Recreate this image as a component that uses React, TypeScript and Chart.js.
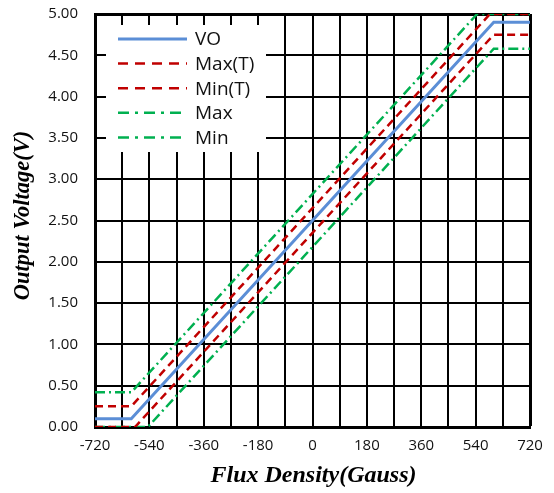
import React, { useEffect, useRef } from "react";
import { Chart, registerables } from "chart.js";

Chart.register(...registerables);

// ---- data ----
const X_TICK_STEP = 90;
const X_LABEL_STEP = 180;
const X_MIN = -720;
const X_MAX = 720;
const Y_MIN = 0;
const Y_MAX = 5;
const Y_STEP = 0.5;

const VO_X = [-720, -600, 600, 720];
const VO_Y = [0.1, 0.1, 4.9, 4.9];
const MAXT_X = [-720, -600, 587.5, 720];
const MAXT_Y = [0.25, 0.25, 5.0, 5.0];
const MINT_X = [-720, -587.5, 600, 720];
const MINT_Y = [0, 0, 4.75, 4.75];
const MAX_X = [-720, -600, 545, 720];
const MAX_Y = [0.42, 0.42, 5.0, 5.0];
const MIN_X = [-720, -545, 600, 720];
const MIN_Y = [0, 0, 4.58, 4.58];

const SERIES_NAMES = ["VO", "Max(T)", "Min(T)", "Max", "Min"];

const BLUE = "#5B8ED6";
const RED = "#C00000";
const GREEN = "#00B050";
const RED_DASH = [8, 5];
const GREEN_DASH = [10, 4, 2, 4];

const zip = (xs: number[], ys: number[]) => xs.map((x, i) => ({ x, y: ys[i] }));

const TICK_FONT = { family: "'Open Sans', 'Noto Sans', sans-serif", size: 15 };

const legendPlugin = {
  id: "boxLegend",
  afterDraw(chart: any) {
    const ctx = chart.ctx;
    const area = chart.chartArea;
    const bx = area.left + 11;
    const by = area.top + 11;
    const bw = 160;
    const bh = 127;
    ctx.save();
    ctx.fillStyle = "#fff";
    ctx.fillRect(bx, by, bw, bh);
    const items = chart.data.datasets.map((d: any) => ({
      label: d.label,
      color: d.borderColor,
      dash: d.borderDash || [],
      width: d.borderWidth,
    }));
    const x0 = bx + 12;
    const x1 = bx + 81;
    const tx = bx + 89;
    items.forEach((it: any, i: number) => {
      const y = by + 14 + i * 24.6;
      ctx.beginPath();
      ctx.strokeStyle = it.color;
      ctx.lineWidth = it.width;
      ctx.setLineDash(it.dash.length === 2 ? [10, 7] : it.dash.length === 4 ? [11, 6, 3, 6] : []);
      ctx.moveTo(x0, y);
      ctx.lineTo(x1, y);
      ctx.stroke();
      ctx.setLineDash([]);
      ctx.fillStyle = "#111";
      ctx.font = "19px 'Open Sans', 'Noto Sans', sans-serif";
      ctx.textBaseline = "middle";
      ctx.textAlign = "left";
      ctx.fillText(it.label, tx, y + 1);
    });
    ctx.restore();
  },
};

const titlePlugin = {
  id: "axisTitles",
  afterDraw(chart: any) {
    const ctx = chart.ctx;
    const area = chart.chartArea;
    ctx.save();
    ctx.fillStyle = "#000";
    ctx.font = "italic bold 24px 'Liberation Serif', 'DejaVu Serif', serif";
    ctx.textAlign = "center";
    ctx.textBaseline = "middle";
    ctx.fillText("Flux Density(Gauss)", (area.left + area.right) / 2 + 1, 476);
    ctx.font = "italic bold 22.5px 'Liberation Serif', 'DejaVu Serif', serif";
    ctx.translate(23, (area.top + area.bottom) / 2 - 5);
    ctx.rotate(-Math.PI / 2);
    ctx.fillText("Output Voltage(V)", 0, 0);
    ctx.restore();
  },
};

export default function App() {
  const ref = useRef<HTMLCanvasElement | null>(null);
  useEffect(() => {
    if (!ref.current) return;
    const chart = new Chart(ref.current, {
      type: "line",
      data: {
        datasets: [
          { label: SERIES_NAMES[0], data: zip(VO_X, VO_Y), borderColor: BLUE, borderWidth: 3, pointRadius: 0, fill: false },
          { label: SERIES_NAMES[1], data: zip(MAXT_X, MAXT_Y), borderColor: RED, borderWidth: 2.5, borderDash: RED_DASH, pointRadius: 0, fill: false },
          { label: SERIES_NAMES[2], data: zip(MINT_X, MINT_Y), borderColor: RED, borderWidth: 2.5, borderDash: RED_DASH, pointRadius: 0, fill: false },
          { label: SERIES_NAMES[3], data: zip(MAX_X, MAX_Y), borderColor: GREEN, borderWidth: 2.5, borderDash: GREEN_DASH, pointRadius: 0, fill: false },
          { label: SERIES_NAMES[4], data: zip(MIN_X, MIN_Y), borderColor: GREEN, borderWidth: 2.5, borderDash: GREEN_DASH, pointRadius: 0, fill: false },
        ],
      },
      options: {
        animation: false,
        responsive: false,
        parsing: true,
        layout: { padding: { left: 0, right: 24, top: 14, bottom: 0 } },
        plugins: { legend: { display: false }, tooltip: { enabled: false } },
        scales: {
          x: {
            type: "linear",
            min: X_MIN,
            max: X_MAX,
            afterFit: (s: any) => { s.height = 66; s.paddingLeft = 0; s.paddingRight = 0; },
            afterBuildTicks: (s: any) => {
              const t = [];
              for (let v = X_MIN; v <= X_MAX; v += X_TICK_STEP) t.push({ value: v });
              s.ticks = t;
            },
            ticks: {
              autoSkip: false,
              maxRotation: 0,
              color: "#111",
              font: TICK_FONT,
              padding: 10,
              callback: (v: any) => (Number(v) % X_LABEL_STEP === 0 ? String(v) : ""),
            },
            grid: {
              color: "#000",
              drawTicks: false,
              lineWidth: (c: any) => (c.tick && c.tick.value === X_MAX ? 3 : 2),
            },
            border: { display: true, color: "#000", width: 3 },
          },
          y: {
            type: "linear",
            min: Y_MIN,
            max: Y_MAX,
            afterFit: (s: any) => { s.width = 95; s.paddingTop = 0; s.paddingBottom = 0; },
            ticks: {
              stepSize: Y_STEP,
              color: "#111",
              font: TICK_FONT,
              padding: 17,
              callback: (v: any) => Number(v).toFixed(2),
            },
            grid: {
              color: "#000",
              drawTicks: false,
              lineWidth: (c: any) => (c.tick && c.tick.value === Y_MAX ? 3 : 2),
            },
            border: { display: true, color: "#000", width: 3 },
          },
        },
      },
      plugins: [legendPlugin, titlePlugin],
    } as any);
    return () => chart.destroy();
  }, []);
  return (
    <div style={{ position: "fixed", left: 0, top: 0, width: 554, height: 493, background: "#fff" }}>
      <canvas ref={ref} width={554} height={493} style={{ width: 554, height: 493 }} />
    </div>
  );
}
